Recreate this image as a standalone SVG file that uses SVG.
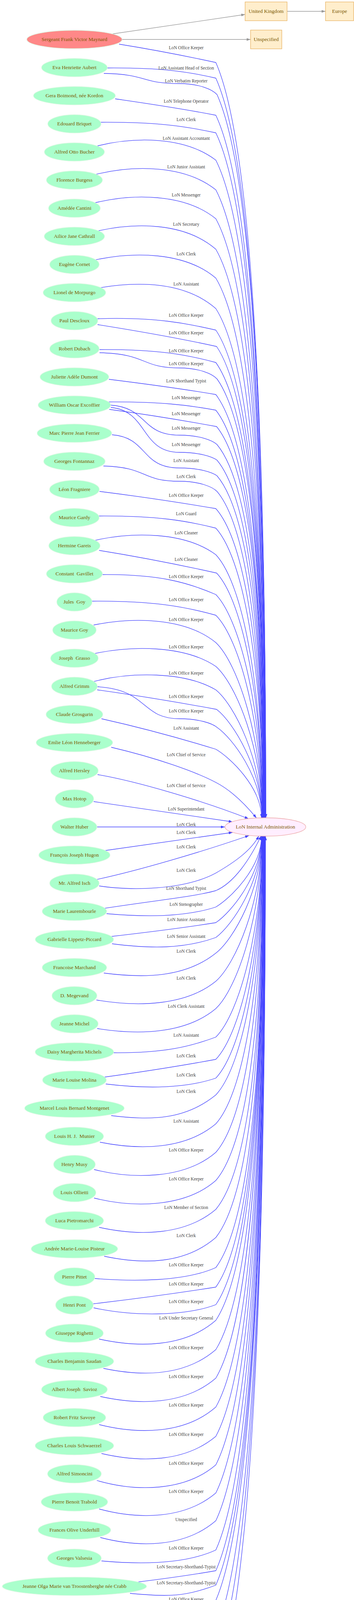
<svg xmlns="http://www.w3.org/2000/svg" width="907" height="4389" viewBox="0 0 907 4389">
<style>
.n ellipse{fill:#aaffcc;stroke:#dcf8e2;stroke-width:1.3}
.n.s ellipse{fill:#ff8888}
.n text,.b text,.tg text{font-family:"Liberation Serif","Times New Roman",serif;font-size:13.3px;fill:#7a5800;text-anchor:middle}
.b rect{fill:#ffeecc;stroke:#e8b466;stroke-width:1.3}
.tg ellipse{fill:#ffeeff;stroke:#eda8a8;stroke-width:1.3}
.e path{fill:none;stroke:#4444ff;stroke-width:1.3;marker-end:url(#ab)}
.gr path{fill:none;stroke:#999999;stroke-width:1.3;marker-end:url(#ag)}
.lb text{font-family:"Liberation Serif","Times New Roman",serif;font-size:11.5px;fill:#444444;text-anchor:middle}
</style>
<defs>
<marker id="ab" markerUnits="userSpaceOnUse" markerWidth="10" markerHeight="7" refX="10" refY="3.5" orient="auto" viewBox="0 0 10 7"><path d="M0,0L10,3.5L0,7z" fill="#4444ff"/></marker>
<marker id="ag" markerUnits="userSpaceOnUse" markerWidth="10" markerHeight="7" refX="10" refY="3.5" orient="auto" viewBox="0 0 10 7"><path d="M0,0L10,3.5L0,7z" fill="#999999"/></marker>
</defs>
<rect x="0" y="0" width="907" height="4389" fill="#ffffff"/>
<g id="connectors">
<g class="gr">
<path d="M280 88L628 37"/>
<path d="M735.5 29L834 29"/>
<path d="M312 101L642 101"/>
</g>
<g class="e">
<path d="M305 113C392 127 479 144 553 160C655 392 681 1224 681 2094"/>
<path d="M275 174C414 173 484 184 553 200C655 427 681 1242 681 2094"/>
<path d="M266 188C380 190 360 214 460 214C510 214 544 229 556 242C656 464 681 1261 681 2094"/>
<path d="M295 253C385 266 476 280 553 295C655 511 680 1284 680 2094"/>
<path d="M256 313C405 312 479 324 553 340C655 550 680 1305 680 2094"/>
<path d="M244 375C344 349 473 349 553 410C655 612 680 1336 680 2094"/>
<path d="M243 447C343 422 473 422 553 486C654 679 679 1370 679 2094"/>
<path d="M240 520C340 495 473 495 553 560C654 744 679 1404 679 2094"/>
<path d="M247 592C347 569 473 569 553 638C654 813 679 1439 679 2094"/>
<path d="M241 666C341 644 473 644 553 712C653 878 678 1472 678 2094"/>
<path d="M253 737C353 720 473 720 553 790C653 946 678 1507 678 2094"/>
<path d="M247 816C400 811 477 828 553 845C653 995 678 1532 678 2094"/>
<path d="M250 831C357 848 464 867 555 887C653 1032 677 1551 677 2094"/>
<path d="M255 895C404 894 479 908 553 928C652 1068 677 1569 677 2094"/>
<path d="M255 903C380 906 360 942 460 942C510 942 544 957 556 970C653 1105 677 1588 677 2094"/>
<path d="M279 971C375 983 471 996 553 1010C651 1140 676 1606 676 2094"/>
<path d="M270 1029C412 1028 482 1037 553 1050C651 1175 676 1624 676 2094"/>
<path d="M280 1048C376 1061 473 1077 555 1092C652 1212 676 1643 676 2094"/>
<path d="M282 1037C380 1043 360 1114 460 1114C510 1114 544 1127 556 1138C651 1253 675 1664 675 2094"/>
<path d="M284 1043C380 1052 360 1158 460 1158C510 1158 544 1169 556 1178C648 1288 675 1682 675 2094"/>
<path d="M287 1113C380 1120 360 1198 460 1198C510 1198 544 1209 556 1218C645 1323 675 1700 675 2094"/>
<path d="M265 1193C380 1196 360 1232 460 1232C510 1232 544 1246 556 1258C641 1358 674 1718 674 2094"/>
<path d="M255 1258C359 1271 464 1287 553 1302C637 1397 674 1738 674 2094"/>
<path d="M251 1321C402 1320 478 1333 553 1352C633 1441 674 1760 674 2094"/>
<path d="M240 1384C340 1361 473 1361 553 1420C628 1501 673 1791 673 2094"/>
<path d="M254 1409C359 1426 465 1447 555 1467C625 1542 673 1812 673 2094"/>
<path d="M263 1471C408 1470 481 1491 553 1522C619 1591 673 1837 673 2094"/>
<path d="M235 1539C394 1538 474 1553 553 1575C615 1637 672 1860 672 2094"/>
<path d="M240 1600C340 1580 473 1580 553 1645C610 1699 672 1892 672 2094"/>
<path d="M238 1674C338 1652 473 1652 553 1706C606 1753 672 1919 672 2094"/>
<path d="M235 1746C335 1719 473 1719 553 1766C601 1805 671 1946 671 2094"/>
<path d="M249 1766C356 1781 463 1799 555 1816C598 1849 671 1969 671 2094"/>
<path d="M249 1758C380 1765 360 1840 460 1840C510 1840 544 1852 556 1862C596 1890 671 1990 671 2094"/>
<path d="M260 1840C363 1863 465 1891 553 1918C589 1939 670 2015 670 2094"/>
<path d="M285 1913C400 1940 500 1975 553 2003C590 2022 625 2055 657 2094"/>
<path d="M250 1983C350 2000 520 2050 637 2096"/>
<path d="M240 2052L596 2104"/>
<path d="M247 2117L576 2117"/>
<path d="M265 2178L596 2131"/>
<path d="M245 2252C350 2230 520 2180 638 2139"/>
<path d="M254 2268C330 2280 470 2280 553 2235C605 2205 645 2175 663 2140"/>
<path d="M263 2326C400 2305 500 2295 553 2280C600 2260 640 2200 669 2140"/>
<path d="M273 2339C373 2348 473 2348 553 2322C590 2300 670 2222 670 2141"/>
<path d="M279 2398C375 2387 471 2375 553 2362C593 2335 670 2240 670 2141"/>
<path d="M287 2416C387 2429 473 2429 553 2400C595 2369 670 2258 670 2141"/>
<path d="M266 2491C366 2504 473 2504 553 2440C599 2404 671 2276 671 2141"/>
<path d="M247 2560C347 2577 473 2577 553 2512C604 2467 671 2308 671 2141"/>
<path d="M249 2633C349 2649 473 2649 553 2582C609 2529 671 2339 671 2141"/>
<path d="M291 2695C422 2696 488 2679 553 2655C615 2593 672 2372 672 2141"/>
<path d="M263 2758C365 2744 466 2728 553 2712C619 2643 672 2398 672 2141"/>
<path d="M271 2775C371 2787 473 2787 553 2760C623 2686 672 2420 672 2141"/>
<path d="M285 2856C385 2868 473 2868 553 2803C627 2724 673 2439 673 2141"/>
<path d="M256 2924C356 2944 473 2944 553 2877C632 2789 673 2472 673 2141"/>
<path d="M241 2994C341 3019 473 3019 553 2950C638 2853 673 2505 673 2141"/>
<path d="M241 3067C341 3092 473 3092 553 3022C644 2916 674 2537 674 2141"/>
<path d="M254 3142C354 3164 473 3164 553 3096C649 2981 674 2571 674 2141"/>
<path d="M267 3216C367 3237 473 3237 553 3168C650 3045 674 2603 674 2141"/>
<path d="M243 3273C343 3281 473 3281 553 3245C651 3113 675 2638 675 2141"/>
<path d="M237 3338C348 3325 458 3310 553 3295C651 3157 675 2660 675 2141"/>
<path d="M240 3348C340 3370 473 3370 553 3340C651 3196 675 2681 675 2141"/>
<path d="M254 3428C354 3450 473 3450 553 3380C651 3231 676 2699 676 2141"/>
<path d="M265 3503C365 3524 473 3524 553 3455C651 3297 676 2732 676 2141"/>
<path d="M257 3575C357 3597 473 3597 553 3528C651 3362 676 2765 676 2141"/>
<path d="M254 3647C354 3672 473 3672 553 3602C652 3427 677 2798 677 2141"/>
<path d="M260 3721C360 3744 473 3744 553 3677C652 3493 677 2832 677 2141"/>
<path d="M248 3790C348 3819 473 3819 553 3750C652 3557 677 2865 677 2141"/>
<path d="M254 3863C354 3890 473 3890 553 3822C653 3620 678 2897 678 2141"/>
<path d="M257 3936C357 3962 473 3962 553 3893C653 3683 678 2929 678 2141"/>
<path d="M260 3996C360 4005 473 4005 553 3968C653 3749 678 2963 678 2141"/>
<path d="M345 4051C418 4042 491 4032 553 4021C654 3795 679 2987 679 2141"/>
<path d="M333 4079C433 4088 473 4088 553 4058C654 3828 679 3004 679 2141"/>
<path d="M251 4148C351 4171 473 4171 553 4097C654 3862 679 3021 679 2141"/>
<path d="M247 4220C347 4246 473 4246 553 4176C655 3932 680 3057 680 2141"/>
<path d="M257 4295C357 4319 473 4319 553 4248C655 3995 680 3089 680 2141"/>
<path d="M257 4367C357 4392 473 4392 553 4322C655 4060 680 3122 680 2141"/>
</g>
<g class="lb">
<text x="477" y="125.5">LoN Office Keeper</text>
<text x="477" y="177.5">LoN Assistant Head of Section</text>
<text x="477" y="210.5">LoN Verbatim Reporter</text>
<text x="477" y="262.5">LoN Telephone Operator</text>
<text x="477" y="309.5">LoN Clerk</text>
<text x="477" y="357.5">LoN Assistant Accountant</text>
<text x="477" y="430.5">LoN Junior Assistant</text>
<text x="477" y="502.5">LoN Messenger</text>
<text x="477" y="577.5">LoN Secretary</text>
<text x="477" y="653.5">LoN Clerk</text>
<text x="477" y="730.5">LoN Assistant</text>
<text x="477" y="810.5">LoN Office Keeper</text>
<text x="477" y="855.5">LoN Office Keeper</text>
<text x="477" y="901.5">LoN Office Keeper</text>
<text x="477" y="934.5">LoN Office Keeper</text>
<text x="477" y="978.5">LoN Shorthand Typist</text>
<text x="477" y="1021.5">LoN Messenger</text>
<text x="477" y="1062.5">LoN Messenger</text>
<text x="477" y="1099.5">LoN Messenger</text>
<text x="477" y="1141.5">LoN Messenger</text>
<text x="477" y="1182.5">LoN Assistant</text>
<text x="477" y="1223.5">LoN Clerk</text>
<text x="477" y="1271.5">LoN Office Keeper</text>
<text x="477" y="1318.5">LoN Guard</text>
<text x="477" y="1367.5">LoN Cleaner</text>
<text x="477" y="1435.5">LoN Cleaner</text>
<text x="477" y="1479.5">LoN Office Keeper</text>
<text x="477" y="1538.5">LoN Office Keeper</text>
<text x="477" y="1589.5">LoN Office Keeper</text>
<text x="477" y="1659.5">LoN Office Keeper</text>
<text x="477" y="1726.5">LoN Office Keeper</text>
<text x="477" y="1786.5">LoN Office Keeper</text>
<text x="477" y="1823.5">LoN Office Keeper</text>
<text x="477" y="1867.5">LoN Assistant</text>
<text x="477" y="1935.5">LoN Chief of Service</text>
<text x="477" y="2014.5">LoN Chief of Service</text>
<text x="477" y="2074.5">LoN Superintendant</text>
<text x="477" y="2114.5">LoN Clerk</text>
<text x="477" y="2134.5">LoN Clerk</text>
<text x="477" y="2171.5">LoN Clerk</text>
<text x="477" y="2231.5">LoN Clerk</text>
<text x="477" y="2277.5">LoN Shorthand Typist</text>
<text x="477" y="2318.5">LoN Stenographer</text>
<text x="477" y="2357.5">LoN Junior Assistant</text>
<text x="477" y="2400.5">LoN Senior Assistant</text>
<text x="477" y="2438.5">LoN Clerk</text>
<text x="477" y="2507.5">LoN Clerk</text>
<text x="477" y="2579.5">LoN Clerk Assistant</text>
<text x="477" y="2653.5">LoN Assistant</text>
<text x="477" y="2706.5">LoN Clerk</text>
<text x="477" y="2755.5">LoN Clerk</text>
<text x="477" y="2797.5">LoN Clerk</text>
<text x="477" y="2873.5">LoN Assistant</text>
<text x="477" y="2947.5">LoN Office Keeper</text>
<text x="477" y="3021.5">LoN Office Keeper</text>
<text x="477" y="3094.5">LoN Member of Section</text>
<text x="477" y="3166.5">LoN Clerk</text>
<text x="477" y="3241.5">LoN Office Keeper</text>
<text x="477" y="3290.5">LoN Office Keeper</text>
<text x="477" y="3335.5">LoN Office Keeper</text>
<text x="477" y="3377.5">LoN Under Secretary General</text>
<text x="477" y="3453.5">LoN Office Keeper</text>
<text x="477" y="3527.5">LoN Office Keeper</text>
<text x="477" y="3600.5">LoN Office Keeper</text>
<text x="477" y="3675.5">LoN Office Keeper</text>
<text x="477" y="3749.5">LoN Office Keeper</text>
<text x="477" y="3821.5">LoN Office Keeper</text>
<text x="477" y="3893.5">Unspecified</text>
<text x="477" y="3966.5">LoN Office Keeper</text>
<text x="477" y="4014.5">LoN Secretary-Shorthand-Typist</text>
<text x="477" y="4055.5">LoN Secretary-Shorthand-Typist</text>
<text x="477" y="4097.5">LoN Office Keeper</text>
<text x="477" y="4174.5">LoN Office Keeper</text>
<text x="477" y="4247.5">LoN Office Keeper</text>
<text x="477" y="4321.5">LoN Member of Section</text>
</g>
</g>
<g id="n_uk" class="b"><rect x="628" y="5" width="107.5" height="48"/><text x="681.75" y="33">United Kingdom</text></g>
<g id="n_europe" class="b"><rect x="834" y="5" width="72" height="48"/><text x="870" y="33">Europe</text></g>
<g id="n_unspecified" class="b"><rect x="642" y="77" width="80" height="48"/><text x="682" y="105">Unspecified</text></g>
<g id="n_lia" class="tg"><ellipse cx="680" cy="2117" rx="103.5" ry="23.5"/><text x="680" y="2121">LoN Internal Administration</text></g>
<g id="p00" class="n s"><ellipse cx="190.7" cy="101" rx="122.1" ry="23.5"/><text x="190.7" y="105">Sergeant Frank Victor Maynard</text></g>
<g id="p01" class="n"><ellipse cx="190.7" cy="173" rx="84.3" ry="23.5"/><text x="190.7" y="177">Eva Henriette Aubert</text></g>
<g id="p02" class="n"><ellipse cx="190.7" cy="245" rx="105" ry="23.5"/><text x="190.7" y="249">Gera Boimond, née Kordon</text></g>
<g id="p03" class="n"><ellipse cx="190.7" cy="317" rx="68.3" ry="23.5"/><text x="190.7" y="321">Edouard Briquet</text></g>
<g id="p04" class="n"><ellipse cx="190.7" cy="389" rx="77" ry="23.5"/><text x="190.7" y="393">Alfred Otto Bucher</text></g>
<g id="p05" class="n"><ellipse cx="190.7" cy="461" rx="71.8" ry="23.5"/><text x="190.7" y="465">Florence Burgess</text></g>
<g id="p06" class="n"><ellipse cx="190.7" cy="533" rx="66.3" ry="23.5"/><text x="190.7" y="537">Amédée Cantini</text></g>
<g id="p07" class="n"><ellipse cx="190.7" cy="605" rx="77.3" ry="23.5"/><text x="190.7" y="609">Ailice Jane Cathrall</text></g>
<g id="p08" class="n"><ellipse cx="190.7" cy="677" rx="63.4" ry="23.5"/><text x="190.7" y="681">Eugène Cornet</text></g>
<g id="p09" class="n"><ellipse cx="190.7" cy="749" rx="80.2" ry="23.5"/><text x="190.7" y="753">Lionel de Morpurgo</text></g>
<g id="p10" class="n"><ellipse cx="190.7" cy="821" rx="59.9" ry="23.5"/><text x="190.7" y="825">Paul Descloux</text></g>
<g id="p11" class="n"><ellipse cx="190.7" cy="893" rx="63.4" ry="23.5"/><text x="190.7" y="897">Robert Dubach</text></g>
<g id="p12" class="n"><ellipse cx="190.7" cy="965" rx="88.1" ry="23.5"/><text x="190.7" y="969">Juliette Adèle Dumont</text></g>
<g id="p13" class="n"><ellipse cx="190.7" cy="1037" rx="93" ry="23.5"/><text x="190.7" y="1041">William Oscar Excoffier</text></g>
<g id="p14" class="n"><ellipse cx="190.7" cy="1109" rx="95.6" ry="23.5"/><text x="190.7" y="1113">Marc Pierre Jean Ferrier</text></g>
<g id="p15" class="n"><ellipse cx="190.7" cy="1181" rx="78.8" ry="23.5"/><text x="190.7" y="1185">Georges Fontannaz</text></g>
<g id="p16" class="n"><ellipse cx="190.7" cy="1253" rx="63.7" ry="23.5"/><text x="190.7" y="1257">Léon Fragniere</text></g>
<g id="p17" class="n"><ellipse cx="190.7" cy="1325" rx="63.4" ry="23.5"/><text x="190.7" y="1329">Maurice Gardy</text></g>
<g id="p18" class="n"><ellipse cx="190.7" cy="1397" rx="65.7" ry="23.5"/><text x="190.7" y="1401">Hermine Gareis</text></g>
<g id="p19" class="n"><ellipse cx="190.7" cy="1469" rx="71.8" ry="23.5"/><text x="190.7" y="1473" xml:space="preserve">Constant  Gavillet</text></g>
<g id="p20" class="n"><ellipse cx="190.7" cy="1541" rx="45.3" ry="23.5"/><text x="190.7" y="1545" xml:space="preserve">Jules  Goy</text></g>
<g id="p21" class="n"><ellipse cx="190.7" cy="1613" rx="55.8" ry="23.5"/><text x="190.7" y="1617">Maurice Goy</text></g>
<g id="p22" class="n"><ellipse cx="190.7" cy="1685" rx="61" ry="23.5"/><text x="190.7" y="1689" xml:space="preserve">Joseph  Grasso</text></g>
<g id="p23" class="n"><ellipse cx="190.7" cy="1757" rx="58.7" ry="23.5"/><text x="190.7" y="1761">Alfred Grimm</text></g>
<g id="p24" class="n"><ellipse cx="190.7" cy="1829" rx="72.7" ry="23.5"/><text x="190.7" y="1833">Claude Grosgurin</text></g>
<g id="p25" class="n"><ellipse cx="190.7" cy="1901" rx="98" ry="23.5"/><text x="190.7" y="1905">Emlie Léon Henneberger</text></g>
<g id="p26" class="n"><ellipse cx="190.7" cy="1973" rx="61" ry="23.5"/><text x="190.7" y="1977">Alfred Hersley</text></g>
<g id="p27" class="n"><ellipse cx="190.7" cy="2045" rx="49.4" ry="23.5"/><text x="190.7" y="2049">Max Hotop</text></g>
<g id="p28" class="n"><ellipse cx="190.7" cy="2117" rx="57.6" ry="23.5"/><text x="190.7" y="2121">Walter Huber</text></g>
<g id="p29" class="n"><ellipse cx="190.7" cy="2189" rx="91.3" ry="23.5"/><text x="190.7" y="2193">François Joseph Hugon</text></g>
<g id="p30" class="n"><ellipse cx="190.7" cy="2261" rx="63.4" ry="23.5"/><text x="190.7" y="2265">Mr. Alfred Isch</text></g>
<g id="p31" class="n"><ellipse cx="190.7" cy="2333" rx="82.6" ry="23.5"/><text x="190.7" y="2337">Marie Laurembourle</text></g>
<g id="p32" class="n"><ellipse cx="190.7" cy="2405" rx="100.3" ry="23.5"/><text x="190.7" y="2409">Gabrielle Lippetz-Piccard</text></g>
<g id="p33" class="n"><ellipse cx="190.7" cy="2477" rx="82.6" ry="23.5"/><text x="190.7" y="2481">Francoise Marchand</text></g>
<g id="p34" class="n"><ellipse cx="190.7" cy="2549" rx="57.6" ry="23.5"/><text x="190.7" y="2553">D. Megevand</text></g>
<g id="p35" class="n"><ellipse cx="190.7" cy="2621" rx="60.8" ry="23.5"/><text x="190.7" y="2625">Jeanne Michel</text></g>
<g id="p36" class="n"><ellipse cx="190.7" cy="2693" rx="100.6" ry="23.5"/><text x="190.7" y="2697">Daisy Margherita Michels</text></g>
<g id="p37" class="n"><ellipse cx="190.7" cy="2765" rx="81.7" ry="23.5"/><text x="190.7" y="2769">Marie Louise Molina</text></g>
<g id="p38" class="n"><ellipse cx="190.7" cy="2837" rx="127.6" ry="23.5"/><text x="190.7" y="2841">Marcel Louis Bernard Montgenet</text></g>
<g id="p39" class="n"><ellipse cx="190.7" cy="2909" rx="74.7" ry="23.5"/><text x="190.7" y="2913" xml:space="preserve">Louis H. J.  Munier</text></g>
<g id="p40" class="n"><ellipse cx="190.7" cy="2981" rx="53.5" ry="23.5"/><text x="190.7" y="2985">Henry Musy</text></g>
<g id="p41" class="n"><ellipse cx="190.7" cy="3053" rx="55" ry="23.5"/><text x="190.7" y="3057">Louis Ollietti</text></g>
<g id="p42" class="n"><ellipse cx="190.7" cy="3125" rx="74.7" ry="23.5"/><text x="190.7" y="3129">Luca Pietromarchi</text></g>
<g id="p43" class="n"><ellipse cx="190.7" cy="3197" rx="110.8" ry="23.5"/><text x="190.7" y="3201">Andrée Marie-Louise Pisteur</text></g>
<g id="p44" class="n"><ellipse cx="190.7" cy="3269" rx="52.3" ry="23.5"/><text x="190.7" y="3273">Pierre Pittet</text></g>
<g id="p45" class="n"><ellipse cx="190.7" cy="3341" rx="48.3" ry="23.5"/><text x="190.7" y="3345">Henri Pont</text></g>
<g id="p46" class="n"><ellipse cx="190.7" cy="3413" rx="74.1" ry="23.5"/><text x="190.7" y="3417">Giuseppe Righetti</text></g>
<g id="p47" class="n"><ellipse cx="190.7" cy="3485" rx="100.6" ry="23.5"/><text x="190.7" y="3489">Charles Benjamin Saudan</text></g>
<g id="p48" class="n"><ellipse cx="190.7" cy="3557" rx="84.3" ry="23.5"/><text x="190.7" y="3561" xml:space="preserve">Albert Joseph  Savioz</text></g>
<g id="p49" class="n"><ellipse cx="190.7" cy="3629" rx="80.2" ry="23.5"/><text x="190.7" y="3633">Robert Fritz Savoye</text></g>
<g id="p50" class="n"><ellipse cx="190.7" cy="3701" rx="100.6" ry="23.5"/><text x="190.7" y="3705">Charles Louis Schwaerzel</text></g>
<g id="p51" class="n"><ellipse cx="190.7" cy="3773" rx="68.9" ry="23.5"/><text x="190.7" y="3777">Alfred Simoncini</text></g>
<g id="p52" class="n"><ellipse cx="190.7" cy="3845" rx="85.2" ry="23.5"/><text x="190.7" y="3849">Pierre Benoit Trabold</text></g>
<g id="p53" class="n"><ellipse cx="190.7" cy="3917" rx="93" ry="23.5"/><text x="190.7" y="3921">Frances Olive Underhill</text></g>
<g id="p54" class="n"><ellipse cx="190.7" cy="3989" rx="68.9" ry="23.5"/><text x="190.7" y="3993">Georges Valsesia</text></g>
<g id="p55" class="n"><ellipse cx="190.7" cy="4061" rx="184.9" ry="23.5"/><text x="190.7" y="4065">Jeanne Olga Marie van Troostenberghe née Crabb</text></g>
<g id="p56" class="n"><ellipse cx="190.7" cy="4133" rx="68.9" ry="23.5"/><text x="190.7" y="4137" xml:space="preserve">Arthur  Whiteley</text></g>
<g id="p57" class="n"><ellipse cx="190.7" cy="4205" rx="63.4" ry="23.5"/><text x="190.7" y="4209">Willy Wiegland</text></g>
<g id="p58" class="n"><ellipse cx="190.7" cy="4277" rx="85.2" ry="23.5"/><text x="190.7" y="4281">Ernest Francois Wyss</text></g>
<g id="p59" class="n"><ellipse cx="190.7" cy="4349" rx="86.6" ry="23.5"/><text x="190.7" y="4353">Solon George Xenakis</text></g>
</svg>
